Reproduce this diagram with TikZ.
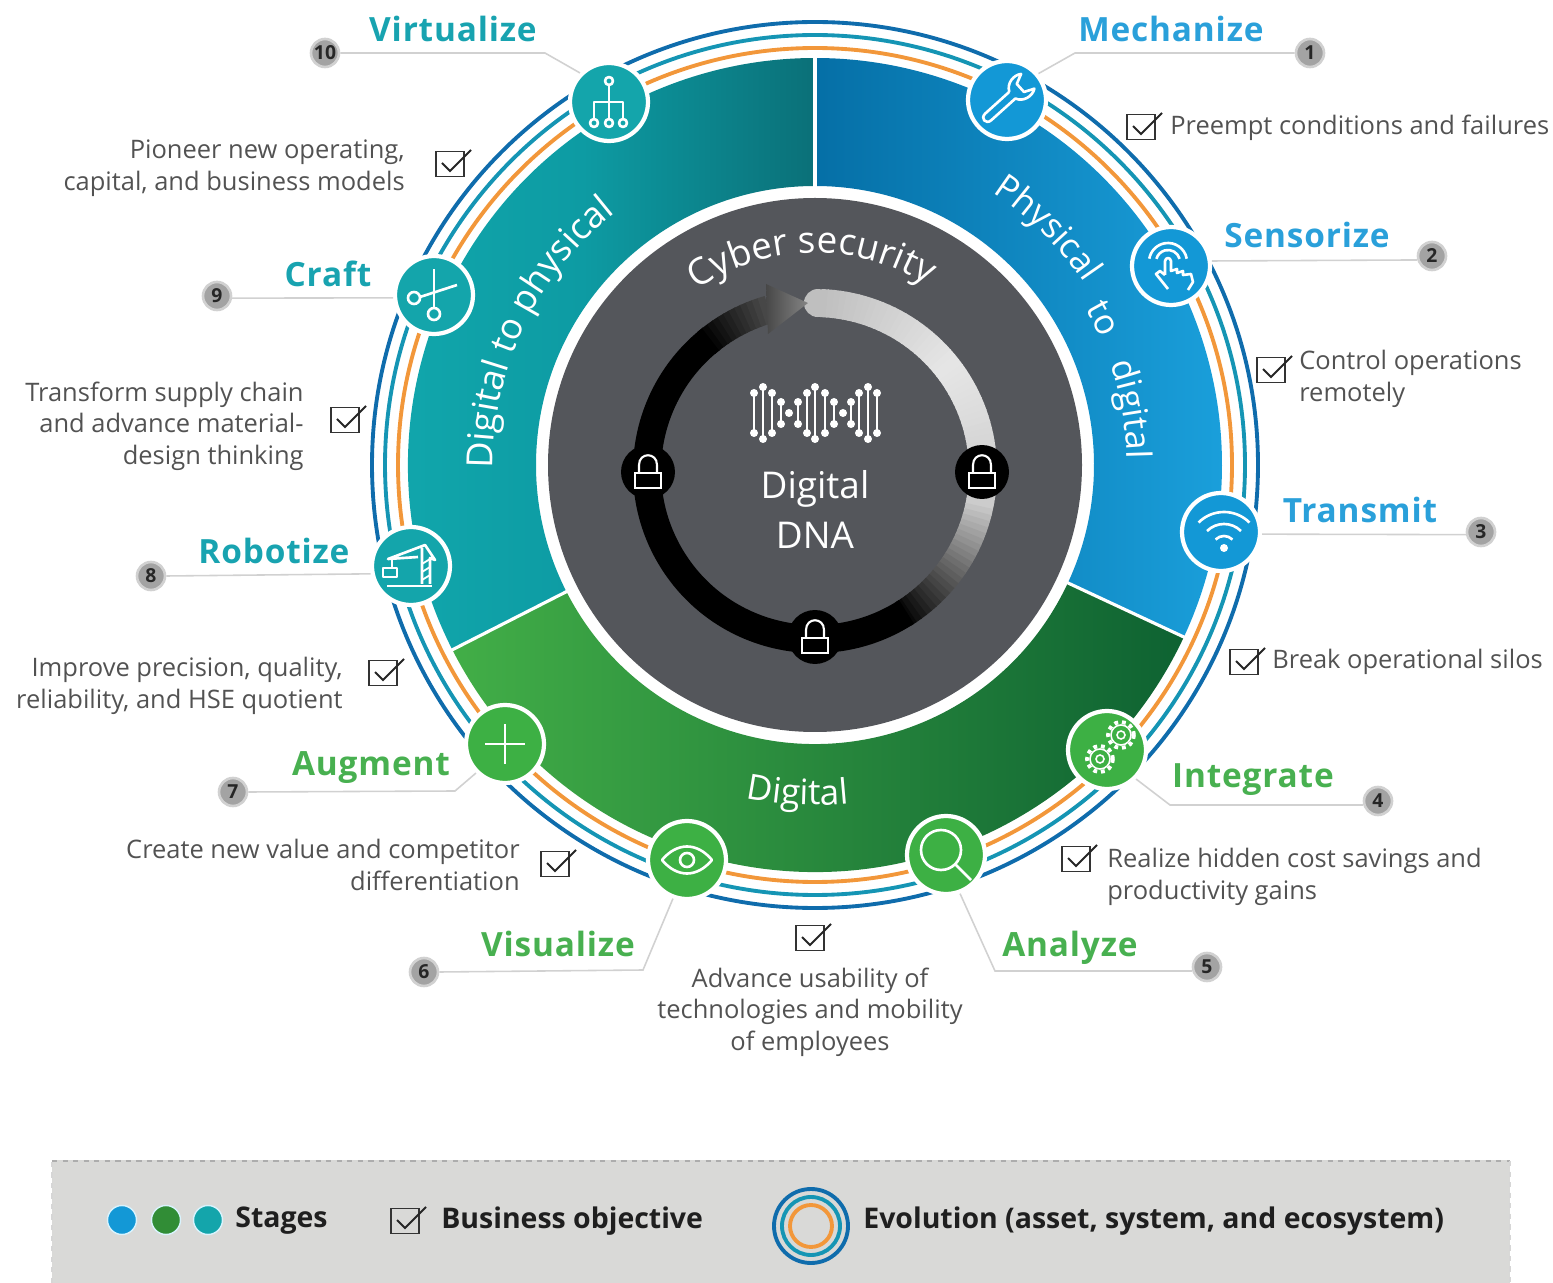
\documentclass[tikz,border=0pt]{standalone}
\usepackage{fontspec}
\setmainfont{Open Sans}
\newfontfamily\headfont[LetterSpace=2.5]{Open Sans}
\usetikzlibrary{decorations.text}

\definecolor{hubgray}{HTML}{54565B}
\definecolor{legendgray}{HTML}{D9D9D7}
\definecolor{bluestage}{HTML}{1398D6}
\definecolor{greenstage}{HTML}{3DB044}
\definecolor{tealstage}{HTML}{14A5AB}
\definecolor{bluetitle}{HTML}{2AA0DA}
\definecolor{greentitle}{HTML}{48B050}
\definecolor{tealtitle}{HTML}{18A3B0}
\definecolor{ringblue}{HTML}{0F6CAC}
\definecolor{ringteal}{HTML}{1595B4}
\definecolor{ringorange}{HTML}{F2973A}
\definecolor{bandblueA}{HTML}{056FA6}
\definecolor{bandblueB}{HTML}{1BA1DD}
\definecolor{bandtealA}{HTML}{12A9AE}
\definecolor{bandtealM}{HTML}{0D9BA3}
\definecolor{bandtealB}{HTML}{0B7078}
\definecolor{bandgreenA}{HTML}{42AE47}
\definecolor{bandgreenB}{HTML}{0E6232}

\newcommand{\tickboxat}[2]{%
    \node[tickbox] (#1) at (#2) {};
    \draw[tick] (#1.center) ++(-8,-1) -- ++(8,8) -- ++(21,-21);
}
\newcommand{\lockat}[2]{%
    \node[lockball] (#1) at (#2) {};
    \draw[lockline] (#1.center) ++(-13,1) rectangle ++(26,15);
    \draw[lockline] (#1.center) ++(-9,1) -- ++(0,-8)
        .. controls +(0,-13) and +(0,-13) .. ++(18,0) -- ++(0,8);
}
\newcommand{\bandlabel}[4]{%
    \path[decorate, decoration={text along path, text align=center,
        text={|\fontsize{#1}{24}\selectfont\color{white}|#2}}] #3 #4;
}

\begin{document}
\begin{tikzpicture}[
    x=.02cm, y=-.02cm,
    frame/.style={shift={(#1)}, y=.02cm},
    iconball/.style={circle, draw=white, line width=2.4pt,
        minimum size=1.56cm, inner sep=0pt},
    iconline/.style={draw=white, line width=1.5pt, line join=round},
    lockball/.style={circle, fill=black, minimum size=1.08cm, inner sep=0pt},
    lockline/.style={draw=white, line width=1.2pt},
    numball/.style={circle, draw=black!18, line width=1.5pt, fill=black!36,
        minimum size=.56cm, inner sep=0pt, text=black!85,
        font=\bfseries\fontsize{11}{12}\selectfont},
    leader/.style={draw=black!18, line width=.9pt},
    tickbox/.style={draw=black!80, line width=1.1pt, minimum width=.56cm,
        minimum height=.5cm, inner sep=0pt},
    tick/.style={draw=black!85, line width=1.1pt},
    stagetitle/.style={inner sep=0pt,
        font=\headfont\bfseries\fontsize{19}{22}\selectfont},
    note/.style={inner sep=0pt, text=black!68,
        font=\fontsize{14.5}{17.9}\selectfont},
    hubtext/.style={inner sep=0pt, text=white,
        font=\fontsize{21}{24}\selectfont},
    legendtext/.style={inner sep=0pt, anchor=west, text=black!88,
        font=\bfseries\fontsize{16.2}{18}\selectfont},
    stagedot/.style={circle, draw=white!85!cyan, line width=.8pt,
        minimum size=.58cm, inner sep=0pt},
    divider/.style={draw=white, line width=1.8pt},
    ]
    \useasboundingbox (0,0) rectangle (1553,1283);
    \coordinate (hub) at (815,465);

    % Legend
    \fill[legendgray] (52,1160) rectangle (1510,1283);
    \draw[black!32, line width=1.4pt, dashed] (52,1161) -- (1510,1161);
    \draw[black!16, line width=1pt, dashed] (52,1283) -- (52,1161);
    \draw[black!16, line width=1pt, dashed] (1510,1161) -- (1510,1283);
    \node[stagedot, fill=bluestage] (dotblue) at (122,1220) {};
    \node[stagedot, fill=greenstage!80!black] (dotgreen) at (166,1220) {};
    \node[stagedot, fill=tealstage] (dotteal) at (208,1220) {};
    \node[legendtext] (stages) at (235,1221) {Stages};
    \tickboxat{legendbox}{405,1221}
    \node[legendtext] (objective) at (441,1221) {Business objective};
    \draw[ringblue, line width=2.2pt] (811,1226) circle[radius=37];
    \draw[ringteal, line width=2.2pt] (811,1226) circle[radius=29];
    \draw[ringorange, line width=2.2pt] (811,1226) circle[radius=21];
    \node[legendtext] (evolution) at (863,1221)
        {Evolution (asset, system, and ecosystem)};

    \begin{scope}[frame=hub]
        % Evolution rings
        \draw[ringblue, line width=2.2pt] (0,0) circle[radius=443];
        \draw[ringteal, line width=2.2pt] (0,0) circle[radius=430];
        \draw[ringorange, line width=2.2pt] (0,0) circle[radius=417];
        % Bands
        \shade[left color=bandblueA, right color=bandblueB]
            (90:407) arc[start angle=90, end angle=-25, radius=407]
            -- (-25:279) arc[start angle=-25, end angle=90, radius=279] -- cycle;
        \shade[left color=bandtealA, right color=bandtealB, middle color=bandtealM]
            (207:407) arc[start angle=207, end angle=90, radius=407]
            -- (90:279) arc[start angle=90, end angle=207, radius=279] -- cycle;
        \shade[left color=bandgreenA, right color=bandgreenB]
            (207:407) arc[start angle=207, end angle=335, radius=407]
            -- (335:279) arc[start angle=335, end angle=207, radius=279] -- cycle;
        \draw[divider] (90:278) -- (90:408);
        \draw[divider] (-25:278) -- (-25:408);
        \draw[divider] (207:278) -- (207:408);
        % Hub
        \fill[hubgray] (0,0) circle[radius=267];
        % Band labels
        \bandlabel{19.8}{Physical}{(65:325)}{arc[start angle=65, end angle=26, radius=325]}
        \bandlabel{19.8}{to}{(37:312)}{arc[start angle=37, end angle=17, radius=312]}
        \bandlabel{19.8}{digital}{(25:312)}{arc[start angle=25, end angle=-5, radius=312]}
        \bandlabel{20.5}{Digital to physical}{(193.5:322)}{arc[start angle=193.5, end angle=115.5, radius=322]}
        \bandlabel{20}{Digital}{(250:340)}{arc[start angle=250, end angle=284, radius=340]}
        \bandlabel{21}{Cyber security}{(126:212)}{arc[start angle=126, end angle=56, radius=212]}
    \end{scope}

    % Cycle arrow
    \begin{scope}[shift={(815,471)}, y=.02cm]
        \fill[black!25] (89:168) circle[radius=14];
        \foreach \a in {88,86,...,40} {
            \pgfmathsetmacro{\g}{.75+.15*(88-\a)/48}
            \definecolor{arcgray}{gray}{\g}
            \draw[arcgray, line width=16pt] (\a:168)
                arc[start angle=\a, delta angle=-2.4, radius=168];
        }
        \foreach \a in {38,36,...,-8} {
            \pgfmathsetmacro{\g}{.9-.1*(38-\a)/46}
            \definecolor{arcgray}{gray}{\g}
            \draw[arcgray, line width=16pt] (\a:168)
                arc[start angle=\a, delta angle=-2.4, radius=168];
        }
        \foreach \a in {-10,-12,...,-56} {
            \pgfmathsetmacro{\g}{.8*(\a+58)/48}
            \definecolor{arcgray}{gray}{\g}
            \draw[arcgray, line width=16pt] (\a:168)
                arc[start angle=\a, delta angle=-2.4, radius=168];
        }
        \draw[black, line width=16pt] (-57:168)
            arc[start angle=-57, end angle=-232, radius=168];
        \foreach \a in {128,126,...,106} {
            \pgfmathsetmacro{\g}{.28*(128-\a)/22}
            \definecolor{arcgray}{gray}{\g}
            \draw[arcgray, line width=16pt] (\a:168)
                arc[start angle=\a, delta angle=2.4, radius=168];
        }
    \end{scope}
    \shade[left color=black!72, right color=black!48]
        (766,284) -- (808,303) -- (768,334) -- cycle;
    \lockat{lockleft}{648,472}
    \lockat{lockright}{982,472}
    \lockat{lockbottom}{815,637}

    % DNA mark
    \begin{scope}[shift={(0,413)}, y=.02cm]
        \foreach \x/\h in {754/20,763/26,772/20,781/11,798/11,807/20,815/26,
                825/20,834/11,851/11,859/20,868/26,877/20} {
            \draw[white, line width=.9pt] (\x,-\h) -- (\x,\h);
            \fill[white] (\x,\h) circle[radius=4];
            \fill[white] (\x,-\h) circle[radius=4];
        }
        \fill[white] (789,0) circle[radius=4];
        \fill[white] (843,0) circle[radius=4];
    \end{scope}
    \node[hubtext] (digital) at (815,489) {Digital};
    \node[hubtext] (dna) at (815,535) {DNA};

    % Stage icons
    \node[iconball, fill=bluestage] (mechanize) at (1007,100) {};
    \node[iconball, fill=bluestage] (sensorize) at (1171,266) {};
    \node[iconball, fill=bluestage] (transmit) at (1221,532) {};
    \node[iconball, fill=greenstage] (integrate) at (1107,750) {};
    \node[iconball, fill=greenstage] (analyze) at (946,855) {};
    \node[iconball, fill=greenstage] (visualize) at (687,860) {};
    \node[iconball, fill=greenstage] (augment) at (505,744) {};
    \node[iconball, fill=tealstage] (robotize) at (411,566) {};
    \node[iconball, fill=tealstage] (craft) at (434,295) {};
    \node[iconball, fill=tealstage] (virtualize) at (609,102) {};

    % wrench
    \begin{scope}[frame=mechanize, rotate=-48, scale=.9]
        \draw[iconline] (-5,8) -- (-5,-28)
            .. controls (-5,-36) and (5,-36) .. (5,-28) -- (5,8)
            .. controls (14,12) and (16,24) .. (11,31) -- (6,20) -- (-6,20)
            -- (-11,31) .. controls (-16,24) and (-14,12) .. (-5,8);
    \end{scope}
    % touch
    \begin{scope}[frame=sensorize]
        \draw[iconline] (-3,4) ++(15:12) arc[start angle=15, end angle=165, radius=12];
        \draw[iconline] (-3,4) ++(10:19) arc[start angle=10, end angle=170, radius=19];
        \draw[iconline] (-6,-9) -- (-6,5) .. controls (-5,9) and (-1,9) .. (0,5)
            -- (0,-5) -- (6,-3) -- (6,-7) -- (12,-5) -- (12,-9) -- (20,-8)
            -- (22,-16) -- (17,-24) (-3,-23) -- (-15,-8) -- (-11,-5) -- (-6,-9);
    \end{scope}
    % wifi
    \begin{scope}[frame=transmit]
        \fill[white] (3,-16) circle[radius=4];
        \foreach \r in {12,24,36} {
            \draw[iconline] (3,-16) ++(45:\r) arc[start angle=45, end angle=135, radius=\r];
        }
    \end{scope}
    % gears
    \begin{scope}[frame=integrate]
        \foreach \cx/\cy in {14/15,-7/-9} {
            \draw[white, line width=2.2pt, dash pattern=on 2.2pt off 2.2pt]
                (\cx,\cy) circle[radius=13];
            \draw[white, line width=.9pt] (\cx,\cy) circle[radius=10];
            \draw[white, line width=.9pt] (\cx,\cy) circle[radius=4];
        }
    \end{scope}
    % magnifier
    \begin{scope}[frame=analyze]
        \draw[iconline] (-5,5) circle[radius=20];
        \draw[iconline] (-5,5) ++(-45:20) -- (25,-25);
    \end{scope}
    % eye
    \begin{scope}[frame=visualize]
        \draw[iconline] (-25,0) .. controls (-10,18) and (10,18) .. (25,0)
            .. controls (10,-18) and (-10,-18) .. (-25,0) -- cycle;
        \draw[iconline] (0,0) circle[radius=7];
    \end{scope}
    % plus
    \begin{scope}[frame=augment]
        \draw[iconline] (-20,0) -- (20,0);
        \draw[iconline] (0,-20) -- (0,20);
    \end{scope}
    % crane
    \begin{scope}[frame=robotize]
        \draw[iconline] (-24,-20) -- (21,-20);
        \draw[iconline] (11,-18) -- (11,18) (19,-18) -- (19,8) -- (24,6)
            -- (14,21) -- (-23,7) -- (7,9);
        \draw[iconline] (-28,-11) rectangle (-14,-2);
        \draw[iconline] (-19,-2) -- (-19,7);
        \foreach \y in {-14,-6,2} {
            \draw[white, line width=1pt] (11,\y) -- (19,\y+5);
        }
    \end{scope}
    % scissors
    \begin{scope}[frame=craft]
        \draw[iconline] (0,-19) circle[radius=6];
        \draw[iconline] (0,-13) -- (0,26);
        \draw[iconline] (-20,-3) circle[radius=6];
        \draw[iconline] (-14,-2) -- (23,10);
    \end{scope}
    % network
    \begin{scope}[frame=virtualize]
        \draw[iconline] (0,21) -- (0,-20);
        \draw[iconline] (-15,-20) -- (-15,0) -- (14,0) -- (14,-20);
        \foreach \x/\y in {0/21,-15/-21,0/-21,14/-21} {
            \draw[iconline, fill=tealstage] (\x,\y) circle[radius=4];
        }
    \end{scope}

    % Numbers
    \node[numball] (one) at (1310,53) {1};
    \node[numball] (two) at (1432,256) {2};
    \node[numball] (three) at (1481,532) {3};
    \node[numball] (four) at (1378,801) {4};
    \node[numball] (five) at (1207,967) {5};
    \node[numball] (six) at (424,972) {6};
    \node[numball] (seven) at (233,792) {7};
    \node[numball] (eight) at (151,576) {8};
    \node[numball] (nine) at (217,296) {9};
    \node[numball] (ten) at (325,53) {10};

    % Leader lines
    \coordinate (kneeone) at (1075,53);
    \coordinate (kneefour) at (1170,805);
    \coordinate (kneefive) at (995,971);
    \coordinate (kneesix) at (643,970);
    \coordinate (kneeseven) at (455,791);
    \coordinate (kneeten) at (545,53);
    \draw[leader] (mechanize.40) -- (kneeone) -- (one.west);
    \draw[leader] (sensorize.7) -- (two.195);
    \draw[leader] (transmit.-3) -- (three.190);
    \draw[leader] (integrate.-45) -- (kneefour) -- (four.195);
    \draw[leader] (analyze.-70) -- (kneefive) -- (five.195);
    \draw[leader] (visualize.-110) -- (kneesix) -- (six.east);
    \draw[leader] (augment.-135) -- (kneeseven) -- (seven.east);
    \draw[leader] (robotize.191) -- (eight.east);
    \draw[leader] (craft.184) -- (nine.-8);
    \draw[leader] (virtualize.135) -- (kneeten) -- (ten.east);

    % Stage names
    \node[stagetitle, text=bluetitle] (tmechanize) at (1171,29) {Mechanize};
    \node[stagetitle, text=bluetitle] (tsensorize) at (1307,235) {Sensorize};
    \node[stagetitle, text=bluetitle] (ttransmit) at (1360,510) {Transmit};
    \node[stagetitle, text=greentitle] (tintegrate) at (1253,780) {Integrate};
    \node[stagetitle, text=greentitle] (tanalyze) at (1070,948) {Analyze};
    \node[stagetitle, text=greentitle] (tvisualize) at (558,944) {Visualize};
    \node[stagetitle, text=greentitle] (taugment) at (371,768) {Augment};
    \node[stagetitle, text=tealtitle] (trobotize) at (274,551) {Robotize};
    \node[stagetitle, text=tealtitle] (tcraft) at (328,274) {Craft};
    \node[stagetitle, text=tealtitle] (tvirtualize) at (453,29) {Virtualize};

    % Objectives
    \tickboxat{boxone}{1141,127}
    \node[note, anchor=west] (preempt) at (1170,128)
        {Preempt conditions and failures};
    \tickboxat{boxtwo}{1271,370}
    \node[note, anchor=west, align=left] (control) at (1299,379)
        {Control operations\\remotely};
    \tickboxat{boxthree}{1244,662}
    \node[note, anchor=west] (silos) at (1272,662) {Break operational silos};
    \tickboxat{boxfour}{1076,859}
    \node[note, anchor=west, align=left] (savings) at (1107,877)
        {Realize hidden cost savings and\\productivity gains};
    \tickboxat{boxfive}{810,938}
    \node[note, align=center] (usability) at (810,1012)
        {Advance usability of\\technologies and mobility\\of employees};
    \tickboxat{boxsix}{555,864}
    \node[note, anchor=east, align=right] (value) at (520,865)
        {Create new value and competitor\\differentiation};
    \tickboxat{boxseven}{383,673}
    \node[note, anchor=east, align=right] (precision) at (343,686)
        {Improve precision, quality,\\reliability, and HSE quotient};
    \tickboxat{boxeight}{345,420}
    \node[note, anchor=east, align=right] (supply) at (304,426)
        {Transform supply chain\\and advance material-\\design thinking};
    \tickboxat{boxnine}{450,164}
    \node[note, anchor=east, align=right] (pioneer) at (405,168)
        {Pioneer new operating,\\capital, and business models};
\end{tikzpicture}
\end{document}
